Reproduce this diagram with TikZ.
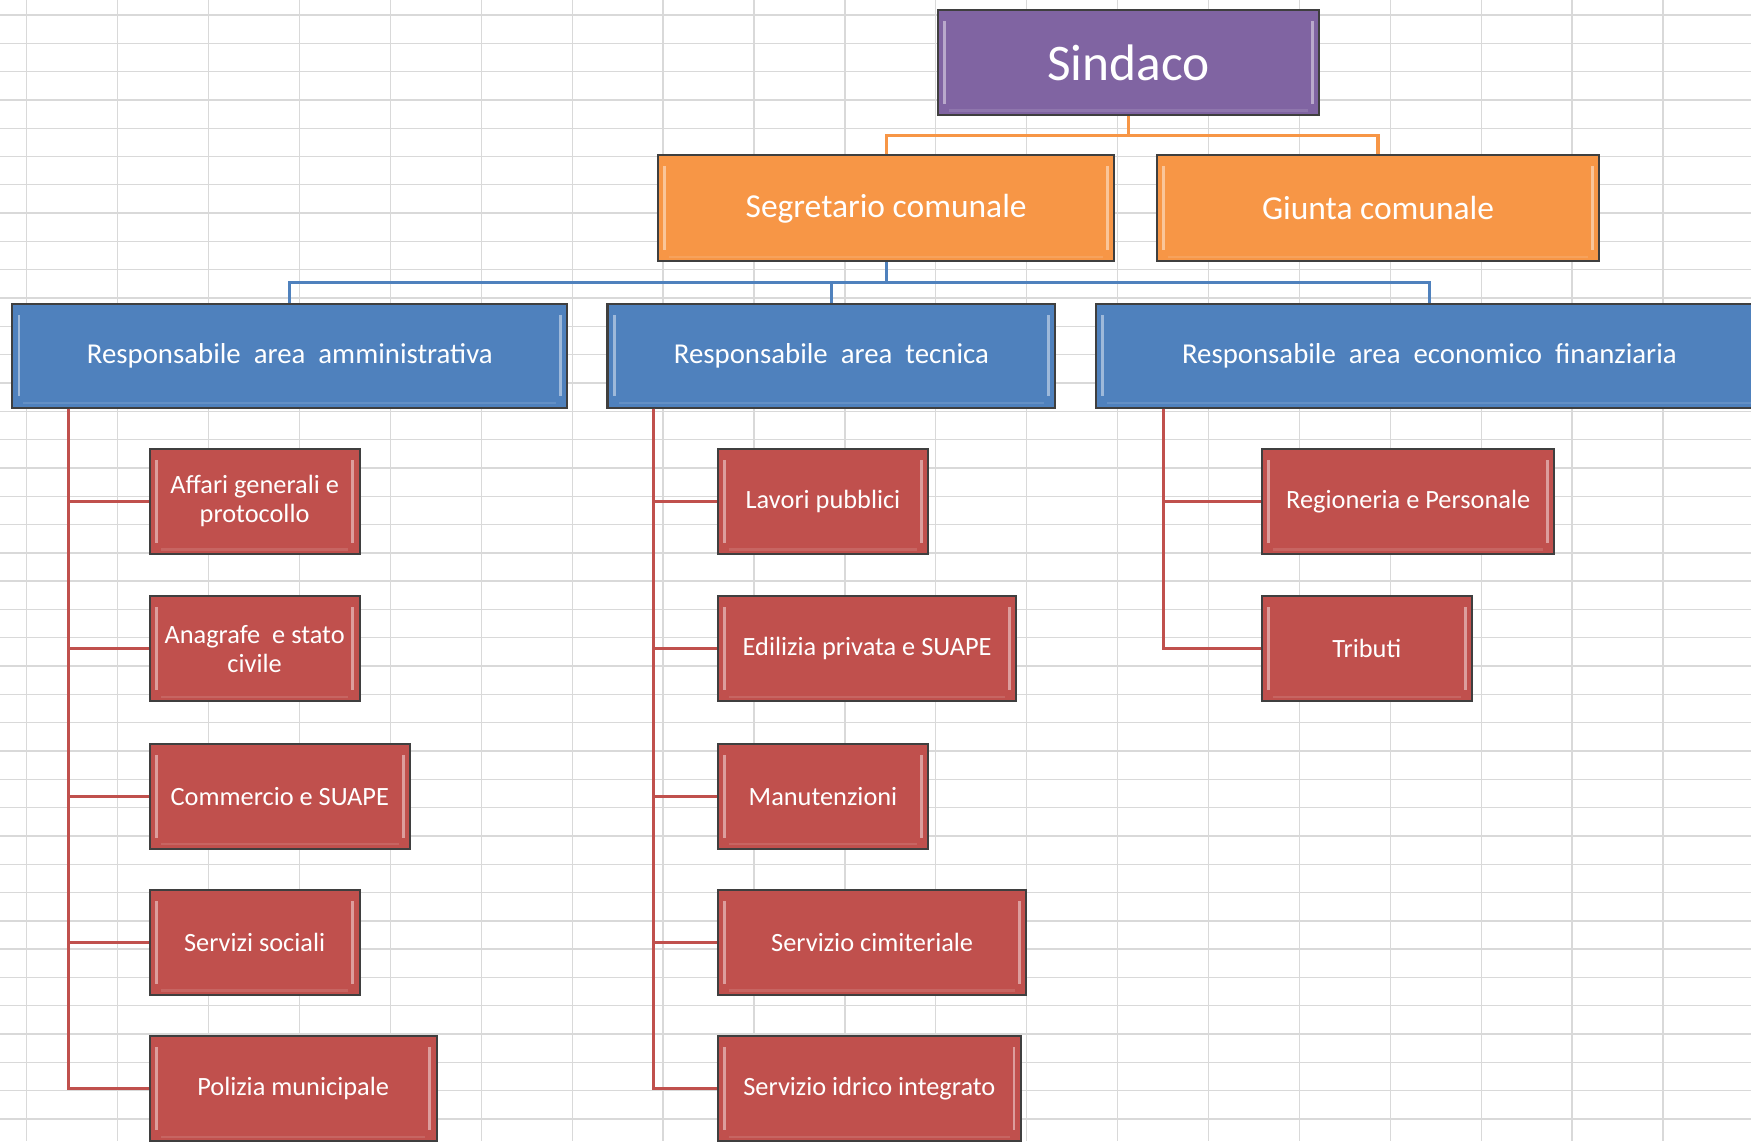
\documentclass[tikz,border=0pt]{standalone}
\usepackage{fontspec}
\setmainfont{Carlito}
\definecolor{cPurple}{HTML}{8064A2}
\definecolor{cOrange}{HTML}{F79646}
\definecolor{cBlue}{HTML}{4F81BD}
\definecolor{cRed}{HTML}{C0504D}
\definecolor{cGrid}{HTML}{D9D9D9}
\definecolor{cBorder}{HTML}{3F3F3F}
\tikzset{
  bevel/.style={path picture={
    \draw[white, opacity=0.45, line width=1.3pt]
      ([xshift=3pt,yshift=-5pt]path picture bounding box.north west) --
      ([xshift=3pt,yshift=5pt]path picture bounding box.south west);
    \draw[white, opacity=0.45, line width=1.3pt]
      ([xshift=-3pt,yshift=-5pt]path picture bounding box.north east) --
      ([xshift=-3pt,yshift=5pt]path picture bounding box.south east);
    \draw[white, opacity=0.12, line width=1.1pt]
      ([xshift=5pt,yshift=2pt]path picture bounding box.south west) --
      ([xshift=-5pt,yshift=2pt]path picture bounding box.south east);
  }},
  box/.style={draw=cBorder, line width=0.9pt, inner sep=0pt, text=white,
    align=center, bevel},
  topbox/.style={box, fill=cPurple, minimum height=47pt,
    font=\fontsize{23}{27}\selectfont},
  orbox/.style={box, fill=cOrange, minimum height=47.5pt,
    font=\fontsize{15}{18}\selectfont},
  bluebox/.style={box, fill=cBlue, minimum height=46.5pt,
    font=\fontsize{12.9}{15}\selectfont},
  redbox/.style={box, fill=cRed, minimum height=47pt,
    font=\fontsize{11.8}{13}\selectfont},
  oline/.style={draw=cOrange, line width=1.4pt},
  bline/.style={draw=cBlue, line width=1.4pt},
  rline/.style={draw=cRed, line width=1.4pt},
}
\begin{document}
\begin{tikzpicture}[x=0.5pt, y=-0.5pt]
\useasboundingbox (0,0) rectangle (1568,1022);
\clip (0,0) rectangle (1568,1022);
\fill[white] (0,0) rectangle (1568,1022);
% spreadsheet grid
\foreach \k in {0,...,19} {
  \draw[cGrid, line width=0.6pt] ({24+81.4*\k},0) -- ({24+81.4*\k},1022);
}
\foreach \k in {0,...,40} {
  \draw[cGrid, line width=0.6pt] (0,{13.4+25.35*\k}) -- (1568,{13.4+25.35*\k});
}
% helper coordinates
\coordinate (oy) at (0,121);
\coordinate (by) at (0,253);
\coordinate (c1) at (61,0);
\coordinate (c2) at (585,0);
\coordinate (c3) at (1042,0);
% nodes
\node[topbox, minimum width=170.5pt] (sindaco) at (1010.5,56) {Sindaco};
\node[orbox, minimum width=204.5pt] (seg) at (793.5,186.5) {Segretario comunale};
\node[orbox, minimum width=198pt] (giunta) at (1234,186.5) {Giunta comunale};
\node[bluebox, minimum width=248.5pt] (amm) at (259.5,318.5) {Responsabile~ area~ amministrativa};
\node[bluebox, minimum width=200.5pt] (tec) at (744.5,318.5) {Responsabile~ area~ tecnica};
\node[bluebox, minimum width=299pt] (econ) at (1280,318.5) {Responsabile~ area~ economico~ finanziaria};
\node[redbox, minimum width=94pt] (affari) at (228,449) {Affari generali e\\protocollo};
\node[redbox, minimum width=94pt] (anagrafe) at (228,581) {Anagrafe~ e stato\\civile};
\node[redbox, minimum width=116.5pt] (commercio) at (250.5,713) {Commercio e SUAPE};
\node[redbox, minimum width=94pt] (sociali) at (228,844) {Servizi sociali};
\node[redbox, minimum width=128.5pt] (polizia) at (262.5,975) {Polizia municipale};
\node[redbox, minimum width=94pt] (lavori) at (737,449) {Lavori pubblici};
\node[redbox, minimum width=133.5pt] (edilizia) at (776.5,581) {Edilizia privata e SUAPE};
\node[redbox, minimum width=94pt] (manut) at (737,713) {Manutenzioni};
\node[redbox, minimum width=138pt] (cimit) at (781,844) {Servizio cimiteriale};
\node[redbox, minimum width=135.5pt] (idrico) at (778.5,975) {Servizio idrico integrato};
\node[redbox, minimum width=131pt] (ragion) at (1261,449) {Regioneria e Personale};
\node[redbox, minimum width=94pt] (tributi) at (1224,581) {Tributi};
% connectors
\draw[oline] (sindaco.south) -- (sindaco.south |- oy);
\draw[oline] (seg.north) -- (seg.north |- oy) -- (giunta.north |- oy) -- (giunta.north);
\draw[bline] (seg.south) -- (seg.south |- by);
\draw[bline] (amm.north) -- (amm.north |- by) -- (econ.north |- by) -- (econ.north);
\draw[bline] (tec.north) -- (tec.north |- by);
\draw[rline] (amm.south -| c1) |- (affari.west);
\draw[rline] (amm.south -| c1) |- (anagrafe.west);
\draw[rline] (amm.south -| c1) |- (commercio.west);
\draw[rline] (amm.south -| c1) |- (sociali.west);
\draw[rline] (amm.south -| c1) |- (polizia.west);
\draw[rline] (tec.south -| c2) |- (lavori.west);
\draw[rline] (tec.south -| c2) |- (edilizia.west);
\draw[rline] (tec.south -| c2) |- (manut.west);
\draw[rline] (tec.south -| c2) |- (cimit.west);
\draw[rline] (tec.south -| c2) |- (idrico.west);
\draw[rline] (econ.south -| c3) |- (ragion.west);
\draw[rline] (econ.south -| c3) |- (tributi.west);
\end{tikzpicture}
\end{document}
